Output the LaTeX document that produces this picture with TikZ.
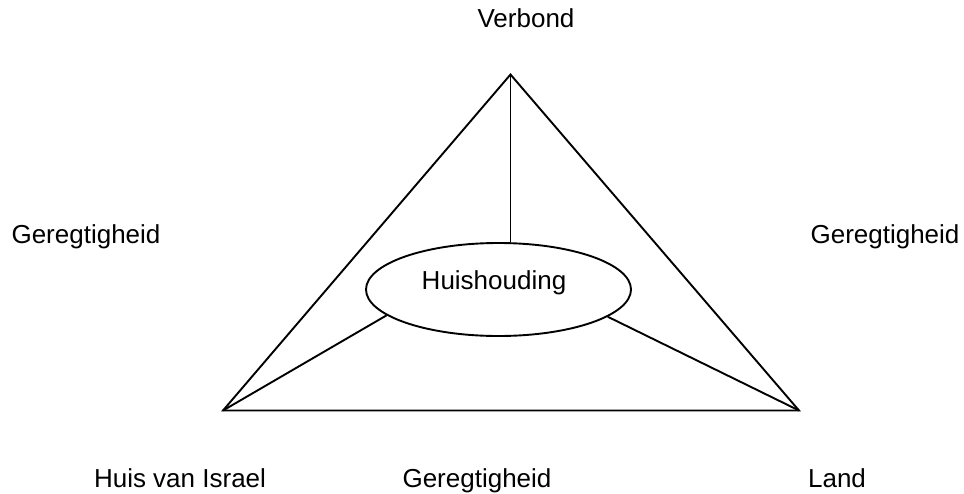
\documentclass[tikz,border=0pt]{standalone}
\usepackage{fontspec}
\setmainfont{Liberation Sans}
\usetikzlibrary{shapes.geometric}
\begin{document}
\begin{tikzpicture}[x=1pt,y=-1pt,
  lbl/.style={anchor=base,inner sep=0pt,font=\fontsize{26}{30}\selectfont},
  edge/.style={draw=black,line width=1.9pt,line join=miter},
  oval/.style={ellipse,draw=black,line width=1.9pt,minimum width=265pt,minimum height=93pt,inner sep=0pt}]
\useasboundingbox[fill=white] (0,0) rectangle (964,493);
\coordinate (top) at (510.5,74.5);
\coordinate (bl) at (223,410.5);
\coordinate (br) at (799,410.5);
\node[oval] (hh) at (498.5,289.5) {};
\node[lbl] (thh) at (494,289) {Huishouding};
\draw[edge] (top) -- (bl) -- (br) -- cycle;
\draw[edge] (top) -- (top |- hh.north);
\draw[edge] (bl) -- (hh.193.6);
\draw[edge] (br) -- (hh.346.8);
\node[lbl] (verbond) at (526,27) {Verbond};
\node[lbl] (gl) at (86,243) {Geregtigheid};
\node[lbl] (gr) at (885,243) {Geregtigheid};
\node[lbl] (huis) at (180,487) {Huis van Israel};
\node[lbl] (gb) at (477,487) {Geregtigheid};
\node[lbl] (land) at (837,487) {Land};
\end{tikzpicture}
\end{document}
